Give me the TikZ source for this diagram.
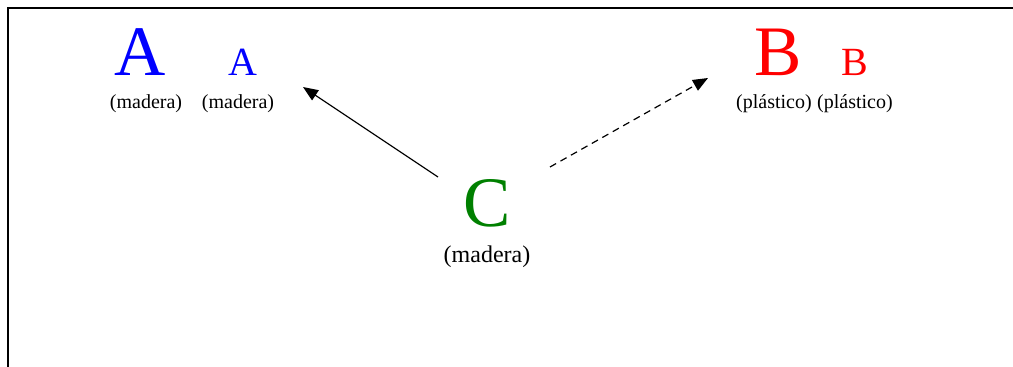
\documentclass[tikz,border=0pt]{standalone}
\usepackage{fontspec}
\setmainfont{Liberation Serif}
\usetikzlibrary{arrows.meta}
\definecolor{cblue}{RGB}{0,0,255}
\definecolor{cred}{RGB}{255,0,0}
\definecolor{cgreen}{RGB}{0,128,0}
\begin{document}
\begin{tikzpicture}[x=1pt,y=1pt,
  big/.style={anchor=base,inner sep=0pt,font=\fontsize{71}{71}\selectfont},
  small/.style={anchor=base,inner sep=0pt,font=\fontsize{40}{40}\selectfont},
  lbl/.style={anchor=base,inner sep=0pt,font=\fontsize{20}{20}\selectfont},
  lblc/.style={anchor=base,inner sep=0pt,font=\fontsize{24}{24}\selectfont},
  conn/.style={line width=1.2pt,-{Triangle[length=15pt,width=12pt]}}]
\useasboundingbox (0,0) rectangle (1013,-367);
\draw[line width=1.6pt] (1013,-8) -- (8,-8) -- (8,-367);
\node[big,text=cblue] (A) at (140,-75) {A};
\node[small,text=cblue] (a) at (243,-75) {A};
\node[lbl] (la1) at (146,-108) {(madera)};
\node[lbl] (la2) at (238,-108) {(madera)};
\node[big,text=cred] (B) at (778,-75) {B};
\node[small,text=cred] (b) at (855,-75) {B};
\node[lbl] (lb1) at (774,-108) {(plástico)};
\node[lbl] (lb2) at (855,-108) {(plástico)};
\node[big,text=cgreen] (C) at (487,-226) {C};
\node[lblc] (lc) at (487,-262) {(madera)};
\coordinate (s1) at (438,-177);
\coordinate (t1) at (303,-87);
\coordinate (s2) at (550,-167);
\coordinate (t2) at (708,-78);
\draw[conn] (s1) -- (t1);
\draw[conn,dash pattern=on 7pt off 5pt] (s2) -- (t2);
\end{tikzpicture}
\end{document}
